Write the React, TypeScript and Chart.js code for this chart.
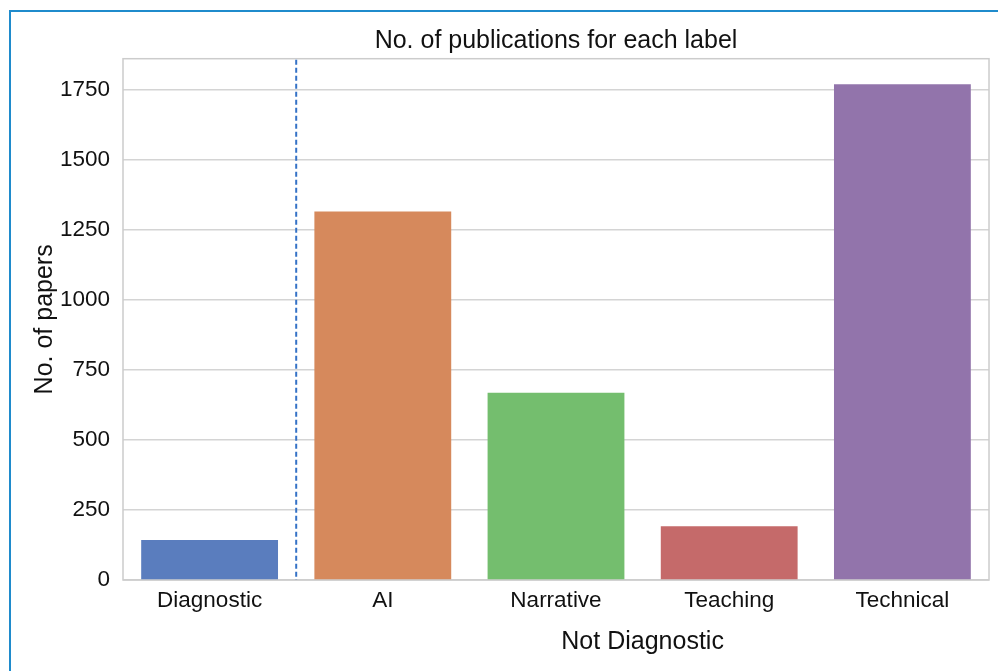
import React, { useEffect, useRef } from "react";
import { Chart, registerables } from "chart.js";

Chart.register(...registerables);

const categories = ["Diagnostic", "AI", "Narrative", "Teaching", "Technical"];
const paperCounts = [143, 1316, 669, 192, 1771];
const barColors = ["#5a7dbe", "#d6895c", "#74be6e", "#c56a6a", "#9274ab"];
const yTickStep = 250;
const yMax = 1862;
const chartTitle = "No. of publications for each label";
const xTitle = "Not Diagnostic";
const yTitle = "No. of papers";

const FONT = "'Liberation Sans', Arial, Helvetica, sans-serif";

const decorPlugin = {
  id: "decor",
  beforeDatasetsDraw(chart: any) {
    const { ctx, chartArea } = chart;
    ctx.save();
    ctx.strokeStyle = "#cccccc";
    ctx.lineWidth = 1.5;
    ctx.strokeRect(chartArea.left, chartArea.top, chartArea.right - chartArea.left, chartArea.bottom - chartArea.top);
    ctx.restore();
  },
  afterDatasetsDraw(chart: any) {
    const { ctx, chartArea, scales } = chart;
    const x = scales.x;
    const sepX = (x.getPixelForValue(0) + x.getPixelForValue(1)) / 2;
    ctx.save();
    ctx.strokeStyle = "#3572c6";
    ctx.lineWidth = 2;
    ctx.setLineDash([5, 3]);
    ctx.beginPath();
    ctx.moveTo(sepX, chartArea.top + 1);
    ctx.lineTo(sepX, chartArea.bottom);
    ctx.stroke();
    ctx.setLineDash([]);
    const cx = (x.getPixelForValue(1) + x.getPixelForValue(categories.length - 1)) / 2;
    ctx.fillStyle = "#111111";
    ctx.font = `25px ${FONT}`;
    ctx.textAlign = "center";
    ctx.textBaseline = "middle";
    ctx.fillText(xTitle, cx, 642);
    ctx.restore();
  },
};

export default function App() {
  const canvasRef = useRef<HTMLCanvasElement | null>(null);

  useEffect(() => {
    if (!canvasRef.current) return;
    const chart = new Chart(canvasRef.current, {
      type: "bar",
      data: {
        labels: categories,
        datasets: [
          {
            data: paperCounts,
            backgroundColor: barColors,
            borderWidth: 0,
            barPercentage: 0.79,
            categoryPercentage: 1,
          },
        ],
      },
      options: {
        animation: false,
        responsive: false,
        devicePixelRatio: 1,
        layout: { padding: { left: 0, right: 9, top: 0, bottom: 0 } },
        plugins: {
          legend: { display: false },
          tooltip: { enabled: false },
          title: {
            display: true,
            fullSize: false,
            text: chartTitle,
            color: "#111111",
            font: { family: FONT, size: 25, weight: "normal" },
            padding: { top: 26, bottom: 2.7 },
          },
        },
        scales: {
          x: {
            grid: { display: false, drawTicks: false },
            border: { display: false },
            ticks: {
              color: "#111111",
              font: { family: FONT, size: 22.5 },
              padding: 7.5,
              maxRotation: 0,
            },
            afterFit(scale: any) {
              scale.height = 91;
            },
          },
          y: {
            min: 0,
            max: yMax,
            grid: { color: "#d4d4d4", lineWidth: 1.5, drawTicks: false },
            border: { display: false },
            ticks: {
              stepSize: yTickStep,
              color: "#111111",
              font: { family: FONT, size: 22.5 },
              padding: 13,
              callback: (v: any) => String(v),
            },
            afterBuildTicks(scale: any) {
              scale.ticks = scale.ticks.filter((t: any) => t.value % yTickStep === 0);
            },
            afterFit(scale: any) {
              scale.width = 123;
            },
            title: {
              display: true,
              text: yTitle,
              color: "#111111",
              font: { family: FONT, size: 25 },
              padding: { top: 30, bottom: 0 },
            },
          },
        },
      },
      plugins: [decorPlugin],
    });
    return () => chart.destroy();
  }, []);

  return (
    <div
      style={{
        position: "fixed",
        left: 0,
        top: 0,
        width: 998,
        height: 671,
        overflow: "hidden",
        background: "#ffffff",
      }}
    >
      <canvas ref={canvasRef} width={998} height={671} style={{ position: "absolute", left: 0, top: 0, width: 998, height: 671 }} />
      <div
        style={{
          position: "absolute",
          left: 9,
          top: 10,
          width: 1200,
          height: 1000,
          border: "2px solid #1f8bcc",
          pointerEvents: "none",
        }}
      />
    </div>
  );
}
